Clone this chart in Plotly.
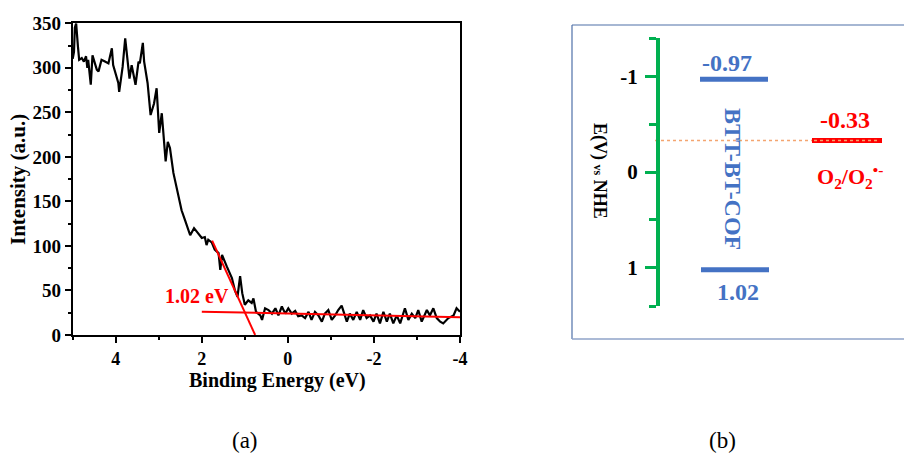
import plotly.graph_objects as go

W, H = 904, 457

# ---------------- Panel (a) data: UPS / VB spectrum ----------------
energy = [5.00, 4.97, 4.95, 4.92, 4.88, 4.85, 4.79, 4.74, 4.69, 4.66, 4.64, 4.58, 4.54, 4.44,
          4.40, 4.33, 4.25, 4.17, 4.09, 4.06, 3.94, 3.92, 3.84, 3.78, 3.68, 3.63, 3.54, 3.47,
          3.44, 3.37, 3.34, 3.26, 3.19, 3.11, 3.05, 2.99, 2.93, 2.89, 2.84, 2.79, 2.74, 2.66,
          2.58, 2.47, 2.39, 2.31, 2.27, 2.18, 2.08, 2.00, 1.93, 1.89, 1.85, 1.77, 1.70, 1.61,
          1.57, 1.53, 1.42, 1.30, 1.23, 1.17, 1.11, 1.06, 1.00, 0.92, 0.84, 0.80, 0.74, 0.64,
          0.60, 0.53, 0.45, 0.37, 0.29, 0.22, 0.14, 0.06, -0.01, -0.09, -0.17, -0.24, -0.32,
          -0.40, -0.48, -0.55, -0.63, -0.71, -0.79, -0.86, -0.94, -1.02, -1.10, -1.17, -1.25,
          -1.37, -1.44, -1.52, -1.60, -1.68, -1.75, -1.83, -1.91, -1.99, -2.06, -2.14, -2.22,
          -2.30, -2.37, -2.45, -2.53, -2.61, -2.72, -2.80, -2.88, -2.96, -3.03, -3.11, -3.23,
          -3.30, -3.38, -3.46, -3.54, -3.61, -3.73, -3.85, -3.92, -4.00]
intensity = [310, 318, 345, 350, 325, 309, 311, 307, 313, 300, 309, 281, 314, 298,
             296, 309, 307, 305, 322, 303, 283, 273, 301, 333, 288, 303, 281, 307,
             305, 328, 307, 283, 247, 260, 277, 227, 249, 228, 195, 217, 210, 182,
             163, 140, 129, 118, 112, 120, 114, 109, 110, 101, 107, 104, 96, 92,
             73, 90, 77, 64, 50, 43, 66, 47, 34, 39, 36, 41, 26, 22,
             17, 30, 28, 24, 30, 22, 32, 24, 30, 24, 27, 21, 22,
             19, 26, 17, 26, 22, 15, 24, 28, 17, 22, 28, 33,
             15, 24, 17, 26, 17, 28, 19, 22, 15, 24, 13, 26,
             15, 24, 13, 22, 13, 30, 17, 24, 19, 28, 15, 28,
             22, 30, 19, 15, 13, 19, 22, 30, 26]

# tangent and baseline fits (red lines)
tangent_E = [1.76, 0.76]
tangent_I = [106, 0]
baseline_E = [2.0, -4.0]
baseline_I = [26.2, 19.9]
gap_label = "1.02 eV"

x_ticks_a = [4, 2, 0, -2, -4]
y_ticks_a = [0, 50, 100, 150, 200, 250, 300, 350]

# ---------------- Panel (b) data: band positions ----------------
cb_level = -0.97
vb_level = 1.02
o2_level = -0.33
e_ticks = [-1, 0, 1]

SERIF = "Liberation Serif"

fig = go.Figure()

# Panel (a) traces
fig.add_trace(go.Scatter(x=energy, y=intensity, mode="lines",
                         line=dict(color="black", width=2.2), xaxis="x", yaxis="y",
                         showlegend=False, hoverinfo="skip"))
fig.add_trace(go.Scatter(x=tangent_E, y=tangent_I, mode="lines",
                         line=dict(color="#ff0000", width=2), xaxis="x", yaxis="y",
                         showlegend=False, hoverinfo="skip"))
fig.add_trace(go.Scatter(x=baseline_E, y=baseline_I, mode="lines",
                         line=dict(color="#ff0000", width=2), xaxis="x", yaxis="y",
                         showlegend=False, hoverinfo="skip"))

# Panel (b) traces (x2 in layout units, y2 in volts vs NHE)
fig.add_trace(go.Scatter(x=[655, 880], y=[o2_level, o2_level], mode="lines",
                         line=dict(color="#F4A570", width=1.5, dash="dot"),
                         xaxis="x2", yaxis="y2", showlegend=False, hoverinfo="skip"))
fig.add_trace(go.Scatter(x=[812, 882], y=[o2_level, o2_level], mode="lines",
                         line=dict(color="#ff0000", width=5),
                         xaxis="x2", yaxis="y2", showlegend=False, hoverinfo="skip"))
fig.add_trace(go.Scatter(x=[814, 880], y=[o2_level, o2_level], mode="lines",
                         line=dict(color="#F4A570", width=1.5, dash="dot"),
                         xaxis="x2", yaxis="y2", showlegend=False, hoverinfo="skip"))
fig.add_trace(go.Scatter(x=[700, 768], y=[cb_level, cb_level], mode="lines",
                         line=dict(color="#4472C4", width=5),
                         xaxis="x2", yaxis="y2", showlegend=False, hoverinfo="skip"))
fig.add_trace(go.Scatter(x=[701, 769], y=[vb_level, vb_level], mode="lines",
                         line=dict(color="#4472C4", width=5),
                         xaxis="x2", yaxis="y2", showlegend=False, hoverinfo="skip"))

y2_top, y2_bot = 38, 306

fig.update_layout(
    width=W, height=H, margin=dict(l=0, r=0, t=0, b=0, autoexpand=False),
    paper_bgcolor="white", plot_bgcolor="rgba(0,0,0,0)",
    showlegend=False,
    xaxis=dict(domain=[72.7 / W, 460 / W], range=[5, -4], anchor="y", automargin=False,
               showline=True, mirror=True, linecolor="black", linewidth=2,
               showgrid=False, zeroline=False,
               tickmode="array", tickvals=x_ticks_a,
               ticktext=[f"<b>{v}</b>" for v in x_ticks_a],
               ticks="outside", ticklen=6, tickwidth=1.5, tickcolor="black",
               minor=dict(tickvals=[5, 3, 1, -1, -3], ticks="outside", ticklen=3,
                          tickwidth=1.5, tickcolor="black"),
               tickfont=dict(family=SERIF, size=18, color="black")),
    yaxis=dict(domain=[1 - 335 / H, 1 - 23.3 / H], range=[0, 350], anchor="x", automargin=False,
               showline=True, mirror=True, linecolor="black", linewidth=2,
               showgrid=False, zeroline=False,
               tickmode="array", tickvals=y_ticks_a,
               ticktext=[f"<b>{v}</b>" for v in y_ticks_a],
               ticks="outside", ticklen=6, tickwidth=1.5, tickcolor="black",
               minor=dict(tickvals=[25, 75, 125, 175, 225, 275, 325], ticks="outside",
                          ticklen=3, tickwidth=1.5, tickcolor="black"),
               tickfont=dict(family=SERIF, size=19, color="black")),
    xaxis2=dict(domain=[572 / W, 1.0], range=[572, 904], anchor="free", position=0,
                visible=False, fixedrange=True, automargin=False),
    yaxis2=dict(domain=[1 - y2_bot / H, 1 - y2_top / H], range=[1.4, -1.4],
                anchor="free", position=658 / W, automargin=False,
                showline=True, linecolor="#00B050", linewidth=4,
                showgrid=False, zeroline=False,
                tickmode="array", tickvals=e_ticks, ticktext=[f"<b>{v}</b>" for v in e_ticks],
                ticks="outside", ticklen=11, tickwidth=3, tickcolor="#00B050",
                minor=dict(tickvals=[-1.4, -0.5, 0.5, 1.4], ticks="outside", ticklen=7,
                           tickwidth=3, tickcolor="#00B050"),
                ticklabelstandoff=3,
                tickfont=dict(family=SERIF, size=21, color="black")),
)


def ann(text, x, y, size, color, xref="paper", yref="paper", angle=0, yshift=0):
    if xref == "paper":
        x = x / W
    if yref == "paper":
        y = 1 - y / H
    return dict(text=text, x=x, y=y, xref=xref, yref=yref, xanchor="center",
                yanchor="middle", textangle=angle, yshift=yshift, showarrow=False,
                font=dict(family=SERIF, size=size, color=color))


annotations = [
    ann("<b>Binding Energy (eV)</b>", 277, 380, 20, "black"),
    ann("<b>Intensity (a.u.)</b>", 18, 180, 21, "black", angle=-90),
    ann("<b>" + gap_label + "</b>", 197, 296, 20, "#ff0000"),
    ann("(a)", 245, 440, 23, "black"),
    ann("(b)", 722, 440, 23, "black"),
    ann("<b>E(V) <span style='font-size:12px'>vs</span> NHE</b>", 600, 171, 18, "black",
        angle=90),
    ann("<b>BTT-BT-COF</b>", 733, 179, 24, "#4472C4", angle=90),
    ann(f"<b>{cb_level:.2f}</b>", 727, cb_level, 24, "#4472C4", "x2", "y2", yshift=16),
    ann(f"<b>{vb_level:.2f}</b>", 738, vb_level, 24, "#4472C4", "x2", "y2", yshift=-22),
    ann(f"<b>{o2_level:.2f}</b>", 845, o2_level, 24, "#ff0000", "x2", "y2", yshift=20),
    ann("<b>O<sub>2</sub>/O<sub>2</sub><sup>•-</sup></b>", 850, o2_level, 22, "#ff0000",
        "x2", "y2", yshift=-36),
]
fig.update_layout(annotations=annotations)

# frame around panel (b)
box_col = "#4F71A8"
fig.add_shape(type="line", xref="paper", yref="paper", x0=572 / W, x1=1.0,
              y0=1 - 25 / H, y1=1 - 25 / H, line=dict(color=box_col, width=1.2))
fig.add_shape(type="line", xref="paper", yref="paper", x0=572 / W, x1=572 / W,
              y0=1 - 25 / H, y1=1 - 339 / H, line=dict(color=box_col, width=1.2))
fig.add_shape(type="line", xref="paper", yref="paper", x0=572 / W, x1=1.0,
              y0=1 - 339 / H, y1=1 - 339 / H, line=dict(color="#8FA3C8", width=1.5))

fig.write_html("out.html")
